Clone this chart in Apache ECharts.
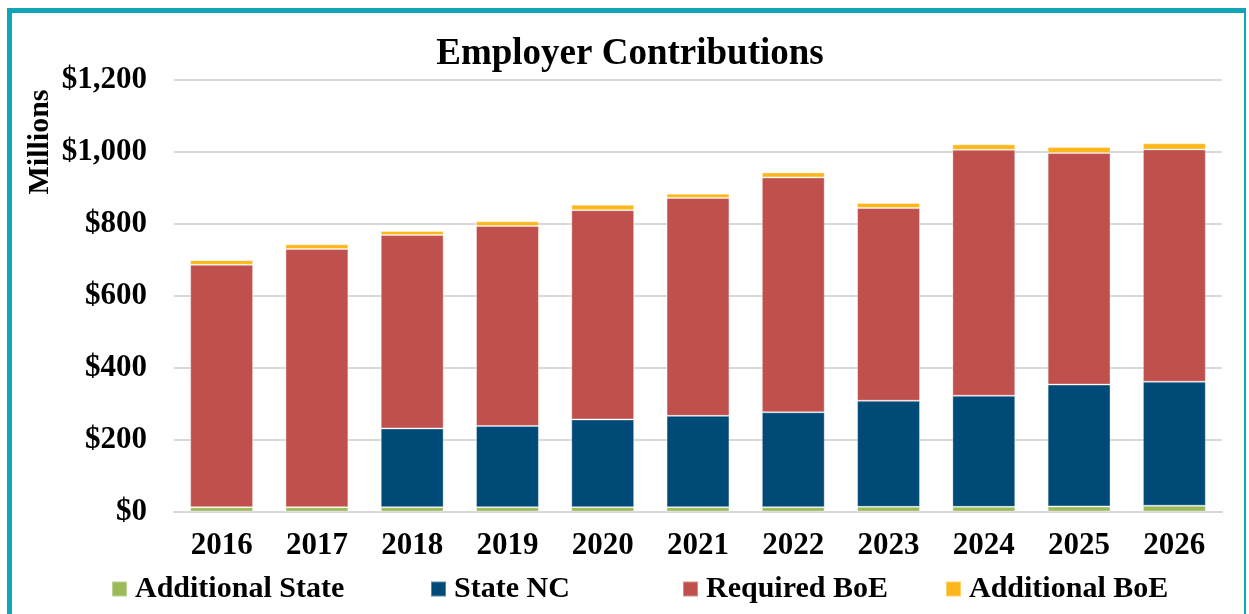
<!DOCTYPE html>
<html>
<head>
<meta charset="utf-8">
<script src="https://cdn.jsdelivr.net/npm/echarts@6/dist/echarts.min.js"></script>
<style>
  html, body { margin: 0; padding: 0; background: #fff; }
  #wrap { position: relative; width: 1249px; height: 614px; overflow: hidden; }
  #chart { position: absolute; left: 0; top: 0; width: 1249px; height: 614px; }
  #frame { position: absolute; left: 7px; top: 8px; width: 1232px; height: 640px;
           border-left: 5px solid #12A5B8; border-top: 5px solid #12A5B8; border-right: 2px solid #12A5B8;
           pointer-events: none; }
</style>
</head>
<body>
<div id="wrap"><div id="chart"></div><div id="frame"></div></div>
<script>
const years = ['2016','2017','2018','2019','2020','2021','2022','2023','2024','2025','2026'];
const additionalState = [12, 12, 12, 12, 12, 12, 12, 13, 13, 14, 16];
const stateNC        = [0, 0, 219, 226, 244, 254, 264, 295, 309, 339, 345];
const requiredBoE    = [674, 718, 538, 556, 582, 606, 653, 536, 684, 644, 646];
const additionalBoE  = [13, 13, 11, 13, 15, 12, 14, 14, 15, 17, 17];
const yTicks = [0, 200, 400, 600, 800, 1000, 1200];

const seriesNames = ['Additional State', 'State NC', 'Required BoE', 'Additional BoE'];
const seriesData = [additionalState, stateNC, requiredBoE, additionalBoE];
const colors = ['#9BBB59', '#004A77', '#C0504D', '#FDB71A'];
const FONT = '"Liberation Serif", "Times New Roman", serif';

const legendLefts = [111, 430, 682, 945];

const chart = echarts.init(document.getElementById('chart'));
chart.setOption({
  animation: false,
  color: colors,
  title: {
    text: 'Employer Contributions',
    left: 625, top: 31, textAlign: 'center',
    textStyle: { fontFamily: FONT, fontWeight: 'bold', fontSize: 37, color: '#000' }
  },
  legend: seriesNames.map((n, i) => ({
    data: [n], left: legendLefts[i], top: 574, padding: 0, itemWidth: 15, itemHeight: 15, itemGap: 6,
    icon: 'rect',
    textStyle: { fontFamily: FONT, fontWeight: 'bold', fontSize: 30, color: '#000', padding: [0, 0, 0, 3] }
  })),
  graphic: [{
    type: 'text', x: 40, y: 142, rotation: Math.PI / 2,
    style: { text: 'Millions', fontFamily: FONT, fontWeight: 'bold', fontSize: 30, fill: '#000',
             textAlign: 'center', textVerticalAlign: 'middle' }
  }],
  grid: { left: 174, right: 27, top: 80, bottom: 102.5, containLabel: false },
  xAxis: {
    type: 'category', data: years,
    axisLine: { lineStyle: { color: '#D9D9D9', width: 2 } },
    axisTick: { show: false },
    axisLabel: { fontFamily: FONT, fontWeight: 'bold', fontSize: 31, color: '#000', margin: 19 }
  },
  yAxis: {
    type: 'value', min: yTicks[0], max: yTicks[yTicks.length - 1], interval: 200,
    axisLine: { show: false }, axisTick: { show: false },
    splitLine: { lineStyle: { color: '#D9D9D9', width: 2 } },
    axisLabel: {
      fontFamily: FONT, fontWeight: 'bold', fontSize: 31, color: '#000', margin: 27,
      formatter: v => '$' + v.toLocaleString('en-US')
    }
  },
  series: seriesNames.map((n, i) => ({
    name: n, type: 'bar', stack: 'total', data: seriesData[i],
    barCategoryGap: '34%',
    itemStyle: { color: colors[i], borderColor: 'rgba(255,255,255,0.35)', borderWidth: 1 }
  }))
});
</script>
</body>
</html>
